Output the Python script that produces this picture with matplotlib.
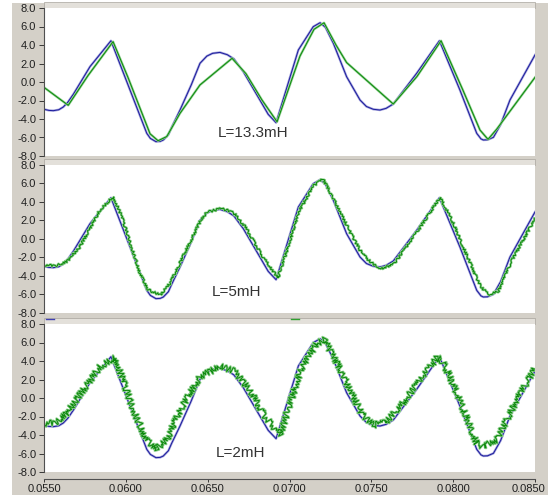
import matplotlib.pyplot as plt
from matplotlib.patches import Rectangle
from matplotlib.lines import Line2D
from matplotlib.transforms import ScaledTranslation

plt.rcParams["font.family"] = ["Liberation Sans", "DejaVu Sans"]

# time axis (s) and currents (A)
t_blue = [0.0550, 0.0553, 0.05557, 0.0559, 0.05618, 0.05645, 0.0568, 0.05781,
          0.05909, 0.06005, 0.06128, 0.0615, 0.06184, 0.0621, 0.06229, 0.0626,
          0.0628, 0.06331, 0.0640, 0.06453, 0.06495, 0.0653, 0.06575, 0.0662,
          0.0666, 0.06718, 0.06819, 0.0687, 0.06918, 0.07054, 0.07145, 0.07187,
          0.0722, 0.07268, 0.07349, 0.07431, 0.0747, 0.07512, 0.07553, 0.0759,
          0.07634, 0.07777, 0.07916, 0.08041, 0.08144, 0.0817, 0.08184, 0.0821,
          0.08246, 0.0829, 0.08347, 0.0850]
v_blue = [-2.95, -3.07, -3.10, -3.0, -2.7, -2.2, -1.3, 1.66,
          4.46, 0.07, -5.55, -6.1, -6.45, -6.42, -6.27, -5.7,
          -4.9, -3.03, -0.3, 2.02, 2.8, 3.1, 3.2, 2.95,
          2.5, 1.11, -1.95, -3.5, -4.40, 3.46, 5.98, 6.41,
          5.9, 4.18, 0.57, -1.95, -2.65, -2.95, -3.03, -2.85,
          -2.38, 0.94, 4.46, -0.86, -5.55, -6.15, -6.27, -6.25,
          -5.98, -4.6, -1.95, 2.92]

t_green1 = [0.0550, 0.05648, 0.05769, 0.05922, 0.06013, 0.06148, 0.06197, 0.0625,
            0.06331, 0.06453, 0.06649, 0.06734, 0.06832, 0.06924, 0.07064, 0.0715,
            0.07211, 0.07284, 0.07349, 0.07634, 0.07779, 0.07926, 0.0806, 0.08164,
            0.08213, 0.08266, 0.0850]
v_green1 = [-0.58, -2.52, 0.7, 4.36, 0.5, -5.6, -6.35, -5.9,
            -3.39, -0.32, 2.56, 0.9, -1.95, -4.3, 2.8, 5.7,
            6.4, 4.0, 2.1, -2.38, 0.6, 4.46, -0.9, -5.2,
            -6.2, -5.1, 0.5]

t_green2 = [0.0550, 0.05567, 0.05639, 0.0572, 0.05842, 0.05923, 0.05975, 0.06087,
            0.06137, 0.06209, 0.0627, 0.06453, 0.06496, 0.06588, 0.06661, 0.06734,
            0.06832, 0.0693, 0.07064, 0.0715, 0.07205, 0.07284, 0.07369, 0.07443,
            0.07529, 0.07577, 0.07651, 0.07785, 0.07919, 0.07993, 0.08079, 0.08164,
            0.08213, 0.08274, 0.08359, 0.0850]
v_green2 = [-2.81, -2.9, -2.45, -0.83, 3.14, 4.58, 2.41, -3.7,
            -5.5, -6.05, -4.8, 1.87, 2.9, 3.3, 2.8, 1.2,
            -1.8, -4.2, 3.2, 5.8, 6.5, 3.8, 0.8, -1.6,
            -3.0, -3.2, -2.4, 0.9, 4.5, 2.0, -1.6, -5.0,
            -6.0, -5.7, -2.3, 2.2]

t_green3 = [0.0550, 0.05567, 0.05639, 0.0574, 0.05842, 0.05914, 0.0594, 0.05964,
            0.06046, 0.06127, 0.06189, 0.0625, 0.06331, 0.06453, 0.06575, 0.06661,
            0.06759, 0.0685, 0.06942, 0.07064, 0.07162, 0.07211, 0.07278, 0.0737,
            0.07443, 0.07512, 0.07583, 0.07675, 0.07797, 0.07899, 0.07926, 0.07981,
            0.08062, 0.08144, 0.08184, 0.08266, 0.08388, 0.0850]
v_green3 = [-2.74, -2.7, -1.65, 0.86, 3.38, 4.2, 4.3, 2.84,
            -1.3, -4.54, -5.44, -4.54, -1.3, 2.3, 3.4, 2.9,
            0.8, -2.0, -4.0, 2.8, 5.8, 6.3, 4.2, 0.86,
            -1.8, -2.92, -2.7, -0.94, 1.9, 4.3, 4.2, 2.3,
            -1.3, -4.9, -5.27, -4.54, -0.22, 3.2]

greens = [(t_green1, v_green1), (t_green2, v_green2), (t_green3, v_green3)]
panel_labels = ["L=13.3mH", "L=5mH", "L=2mH"]
label_pos = [(0.06777, -5.5), (0.06679, -5.75), (0.06698, -5.95)]
y_ticks = [8.0, 6.0, 4.0, 2.0, 0.0, -2.0, -4.0, -6.0, -8.0]
x_ticks = [0.055, 0.060, 0.065, 0.070, 0.075, 0.080, 0.085]

W, H = 548, 495
fig = plt.figure(figsize=(W / 100, H / 100), dpi=100, facecolor="#d4d0c8")
fig.add_artist(Rectangle((0, 0), 12 / W, 1, transform=fig.transFigure,
                         facecolor="white", edgecolor="none", zorder=-5))
fig.add_artist(Rectangle((0, 1 - 3 / H), 1, 3 / H, transform=fig.transFigure,
                         facecolor="white", edgecolor="none", zorder=-5))

tops = [8, 165, 324]
ripple = [None, (1.3, 3, 3), (3.5, 3, 3)]
for i, top in enumerate(tops):
    ax = fig.add_axes([44 / W, 1 - (top + 148) / H, 491 / W, 148 / H])
    ax.set_xlim(0.055, 0.085)
    ax.set_ylim(-8, 8)
    for s in ["top", "right", "bottom"]:
        ax.spines[s].set_visible(False)
    ax.spines["left"].set_color("#505050")
    ax.spines["left"].set_linewidth(0.8)
    ax.set_yticks(y_ticks)
    ax.set_yticklabels([f"{v:.1f}" for v in y_ticks])
    ax.tick_params(axis="y", length=3.6, width=0.6, pad=2, labelsize=8,
                   colors="#202020")

    # header strip above each panel
    fig.add_artist(Rectangle((44 / W, 1 - top / H), 491 / W, 6 / H,
                             transform=fig.transFigure, facecolor="#e3e0da",
                             edgecolor="#a8a49c", linewidth=0.5, zorder=-1))

    ax.plot(t_blue, v_blue, color="#a4a4dc", lw=1.7)
    ax.plot(t_blue, v_blue, color="#1a1a9c", lw=0.7)

    tg, vg = greens[i]
    halo, = ax.plot(tg, vg, color="#90d090", lw=1.7)
    core, = ax.plot(tg, vg, color="#0a880a", lw=0.7)
    if ripple[i] is not None:
        halo.set_sketch_params(*ripple[i])
        core.set_sketch_params(ripple[i][0] * 0.9, ripple[i][1], ripple[i][2])

    ax.text(label_pos[i][0], label_pos[i][1], panel_labels[i], ha="center",
            va="center", fontsize=11, color="#333333")

    if i == 2:
        ax.spines["bottom"].set_visible(True)
        ax.spines["bottom"].set_position(("outward", 5))
        ax.spines["bottom"].set_color("#505050")
        ax.spines["bottom"].set_linewidth(0.8)
        ax.set_xticks(x_ticks)
        ax.set_xticklabels([f"{x:.4f}" for x in x_ticks])
        ax.tick_params(axis="x", length=2.5, width=0.6, pad=1, labelsize=8,
                       colors="#202020")
        last = ax.get_xticklabels()[-1]
        last.set_transform(last.get_transform()
                           + ScaledTranslation(-6 / 100, 0, fig.dpi_scale_trans))
    else:
        ax.set_xticks([])

# legend samples in the bottom panel's strip
fig.add_artist(Line2D([46 / W, 54 / W], [1 - 319 / H] * 2, color="#4040b0", lw=1.0))
fig.add_artist(Line2D([291 / W, 299 / W], [1 - 319 / H] * 2, color="#30a030", lw=1.0))

fig.savefig("out.png", dpi=100, facecolor=fig.get_facecolor())
